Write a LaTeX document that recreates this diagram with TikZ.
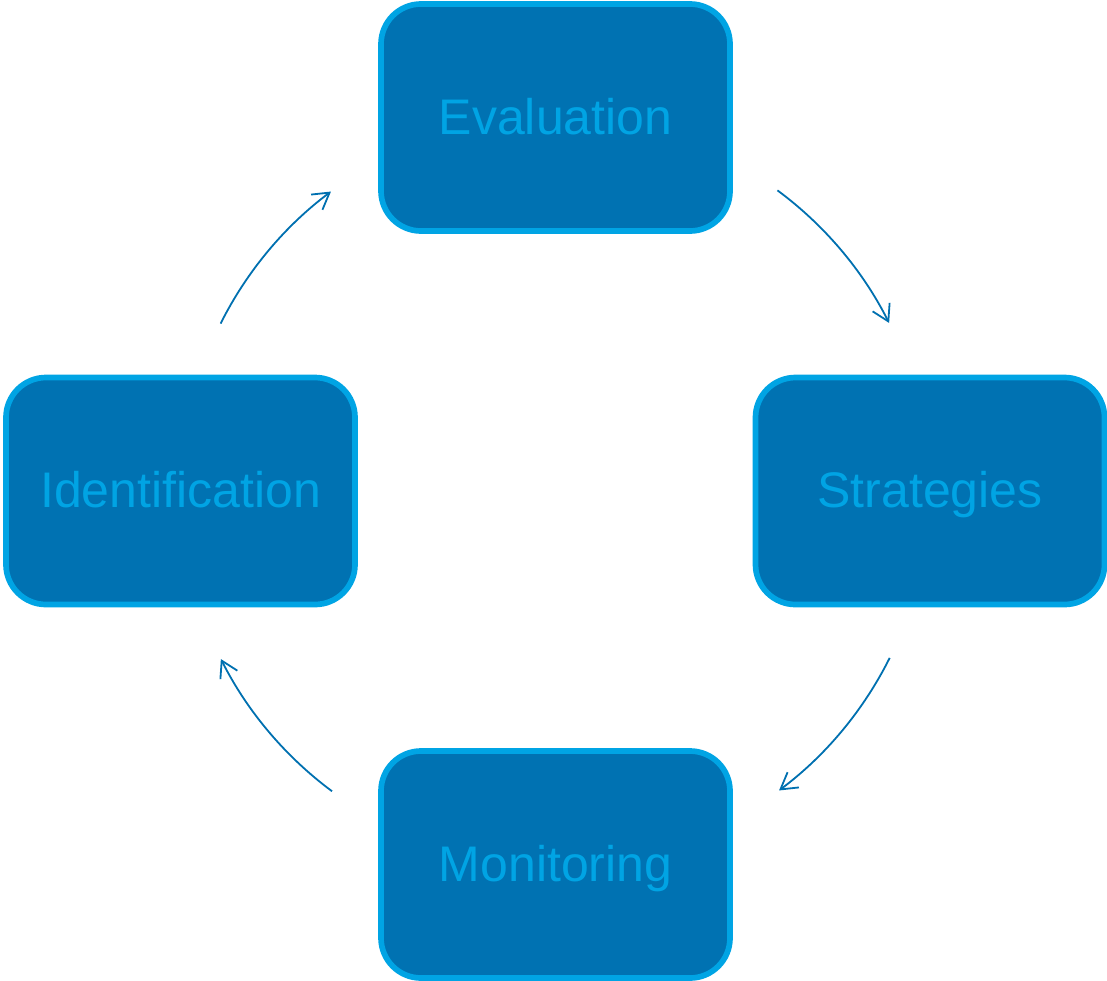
\documentclass[tikz,border=0pt]{standalone}
\usepackage{fontspec}
\setmainfont{Liberation Sans}
\usetikzlibrary{arrows.meta}
\definecolor{boxfill}{RGB}{0,114,178}
\definecolor{boxline}{RGB}{0,164,228}
\definecolor{arrowcol}{RGB}{0,112,176}
\begin{document}
\begin{tikzpicture}[x=1pt,y=-1pt,
  stage/.style={draw=boxline, fill=boxfill, line width=5.7pt, rounded corners=40pt,
    minimum width=349pt, minimum height=227pt, text=boxline,
    text height=33pt, text depth=0pt, font=\fontsize{50}{60}\selectfont},
  cyc/.style={draw=arrowcol, line width=1.8pt, -{Straight Barb[length=16pt,width=19pt,line width=1.8pt]}}]
\useasboundingbox (0,0) rectangle (1107,980);
\node[stage] (eval) at (555.5,117.5) {Evaluation};
\node[stage] (strat) at (930,491) {Strategies};
\node[stage] (ident) at (180.5,491) {Identification};
\node[stage] (monit) at (555.5,864.5) {Monitoring};
\coordinate (ctr) at (555,491);
\begin{scope}[y=1pt]
\draw[cyc] ([shift={(53.5:374)}]ctr) arc[start angle=53.5, end angle=26.7, radius=374];
\draw[cyc] ([shift={(-26.5:374)}]ctr) arc[start angle=-26.5, end angle=-53.2, radius=374];
\draw[cyc] ([shift={(-126.6:374)}]ctr) arc[start angle=-126.6, end angle=-153.3, radius=374];
\draw[cyc] ([shift={(153.4:374)}]ctr) arc[start angle=153.4, end angle=126.8, radius=374];
\end{scope}
\end{tikzpicture}
\end{document}
